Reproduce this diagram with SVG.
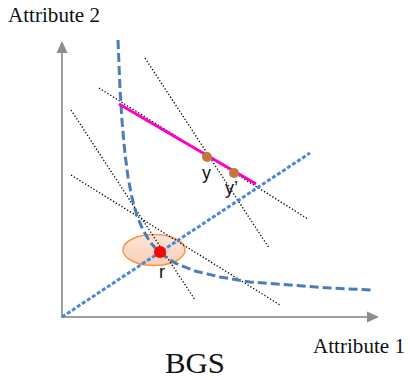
<svg xmlns="http://www.w3.org/2000/svg" width="410" height="380" viewBox="0 0 410 380">
<defs>
<linearGradient id="peach" x1="0" y1="0" x2="0" y2="1">
<stop offset="0" stop-color="#fde6da"/>
<stop offset="1" stop-color="#fbcdb4"/>
</linearGradient>
</defs>
<style>
.axis{stroke:#a0a0a0;stroke-width:2;fill:none}
.head{fill:#8c8c8c}
.iso{stroke:#000;stroke-width:1.3;stroke-dasharray:1.3 2;fill:none}
.curve{stroke:#4a7ebb;stroke-width:3;stroke-dasharray:9 4;fill:none}
.ray{stroke:#4f88d6;stroke-width:3;stroke-dasharray:4 2;fill:none}
.serif{font-family:"Liberation Serif","Times New Roman",serif;fill:#111}
.sans{font-family:"Liberation Sans",Arial,sans-serif;fill:#111;font-size:18px}
</style>
<rect width="410" height="380" fill="#fff"/>
<g id="axes">
<line class="axis" x1="62" y1="318" x2="62" y2="50"/>
<polygon class="head" points="62,41 56.5,53 67.5,53"/>
<line class="axis" x1="61" y1="317" x2="369" y2="317"/>
<polygon class="head" points="379,317 367,311.5 367,322.5"/>
</g>
<g id="labels">
<text class="serif" x="8" y="22" font-size="20" textLength="92" lengthAdjust="spacingAndGlyphs">Attribute 2</text>
<text class="serif" x="313" y="353" font-size="20" textLength="92" lengthAdjust="spacingAndGlyphs">Attribute 1</text>
<text class="serif" x="165" y="373" font-size="29" textLength="60" lengthAdjust="spacingAndGlyphs">BGS</text>
</g>
<g id="region">
<ellipse cx="154" cy="250" rx="31" ry="15.5" fill="url(#peach)" stroke="#f79646" stroke-width="1.5"/>
</g>
<g id="connectors">
<line class="iso" x1="145" y1="58" x2="269" y2="248"/>
<line class="iso" x1="99" y1="88" x2="308" y2="219"/>
<line class="iso" x1="71" y1="110" x2="195" y2="300"/>
<line class="iso" x1="71" y1="175" x2="280" y2="305"/>
<path class="curve" d="M118,40 L120,89 L122,121 L125,154 L128,177 L132,198 L137,216 L143,230 L150,242 L160,253 L175,263 L195,271 L220,277 L250,282 L290,285 L330,288 L372,290"/>
<line class="ray" x1="62" y1="317" x2="310" y2="153"/>
<line x1="119" y1="104" x2="256" y2="184" stroke="#ff00cc" stroke-width="3"/>
</g>
<g id="point-y">
<circle cx="207" cy="157" r="5" fill="#c07a38"/>
<text class="sans" x="202" y="179">y</text>
</g>
<g id="point-y-prime">
<circle cx="234" cy="173" r="5" fill="#c07a38"/>
<text class="sans" x="225" y="194">y’</text>
</g>
<g id="point-r">
<circle cx="160" cy="252" r="6" fill="#ff0000"/>
<text class="sans" x="159" y="278">r</text>
</g>
</svg>
